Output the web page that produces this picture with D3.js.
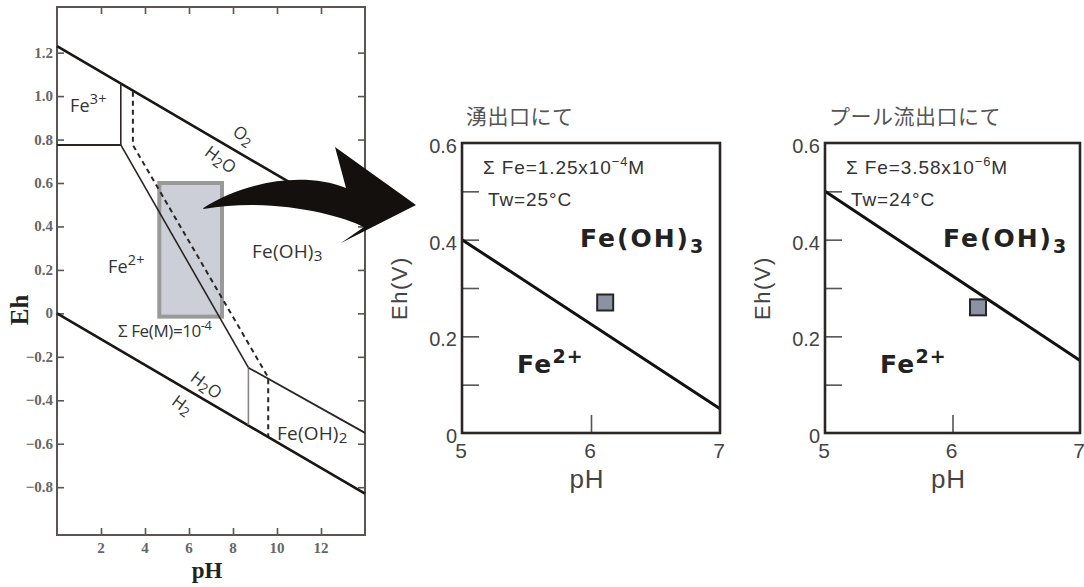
<!DOCTYPE html>
<html><head><meta charset="utf-8">
<script src="https://cdn.jsdelivr.net/npm/d3@7"></script>
<style>
html,body{margin:0;padding:0;background:#fff;}
svg{display:block;}
</style></head><body>
<svg id="chart" width="1084" height="587"></svg>
<script>
// ---- Overview Eh–pH diagram of the Fe–H2O system ----
const overviewPHTicks = [2, 4, 6, 8, 10, 12];
const overviewEhTicks = [1.2, 1.0, 0.8, 0.6, 0.4, 0.2, 0, -0.2, -0.4, -0.6, -0.8];
const o2H2oLine = [[0, 1.23], [14, 0.40]];
const h2oH2Line = [[0, 0], [14, -0.83]];
const fe3Fe2Line = [[0, 0.775], [2.9, 0.775]];
const fe3FeOH3Line = [[2.9, 0.775], [2.9, 1.06]];
const fe2FeOH3Line = [[2.9, 0.775], [8.7, -0.25]];
const fe2FeOH2Line = [[8.7, -0.25], [8.7, -0.513]];
const feOH2FeOH3Line = [[8.7, -0.25], [14, -0.55]];
const dashedBoundary = [[3.45, 1.02], [3.45, 0.775], [9.6, -0.295], [9.6, -0.566]];
const windowPH = [4.65, 7.5];
const windowEh = [-0.015, 0.6];

// ---- Detail panels (pH 5–7, Eh 0–0.6 V) ----
const detailPHTicks = [5, 6, 7];
const detailEhLabels = [0, 0.2, 0.4, 0.6];
const detailEhMinor = [0.1, 0.2, 0.3, 0.4, 0.5];

const springTitle = "湧出口にて";
const springFe = ["1.25x10", "−4"];
const springTemp = "Tw=25°C";
const springBoundary = [[5, 0.40], [7, 0.05]];
const springPoint = [6.11, 0.27];

const poolTitle = "プール流出口にて";
const poolFe = ["3.58x10", "−6"];
const poolTemp = "Tw=24°C";
const poolBoundary = [[5, 0.50], [7, 0.15]];
const poolPoint = [6.2, 0.26];

const svg = d3.select("#chart");
const SANS = "'Liberation Sans', Arial, sans-serif";
const SERIF = "'Liberation Serif', 'Times New Roman', serif";
const JP = "'Noto Sans CJK JP', sans-serif";

// text with super/subscript parts: [{t, sup}|{t, sub}|{t}]
function rich(g, x, y, parts, size, opts = {}) {
  const t = g.append("text").attr("x", x).attr("y", y)
    .attr("font-size", size).attr("font-family", opts.family || SANS)
    .attr("fill", opts.fill || "#222");
  if (opts.weight) t.attr("font-weight", opts.weight);
  if (opts.spacing) t.attr("letter-spacing", opts.spacing);
  if (opts.anchor) t.attr("text-anchor", opts.anchor);
  if (opts.transform) t.attr("transform", opts.transform);
  let shift = 0;
  const small = opts.small || 0.72;
  parts.forEach(p => {
    let target = 0, fs = size;
    if (p.sup) { target = -size * (opts.supShift || 0.42); fs = size * small; }
    if (p.sub) { target = size * (opts.subShift || 0.22); fs = size * small; }
    t.append("tspan").attr("dy", target - shift).attr("font-size", fs).text(p.t);
    shift = target;
  });
  return t;
}

// ================= overview panel =================
const xL = d3.scaleLinear().domain([0, 14]).range([57, 365]);
const yL = d3.scaleLinear().domain([-1.02, 1.41]).range([535, 7]);
const lineL = d3.line().x(d => xL(d[0])).y(d => yL(d[1]));
const gL = svg.append("g");

// highlighted pH/Eh window
gL.append("rect")
  .attr("x", xL(windowPH[0])).attr("y", yL(windowEh[1]))
  .attr("width", xL(windowPH[1]) - xL(windowPH[0]))
  .attr("height", yL(windowEh[0]) - yL(windowEh[1]))
  .attr("fill", "#ccced8").attr("stroke", "#999").attr("stroke-width", 4);

// frame
gL.append("rect").attr("x", 57).attr("y", 7).attr("width", 308).attr("height", 528)
  .attr("fill", "none").attr("stroke", "#5a5552").attr("stroke-width", 2);

// inward ticks on all four sides
const tk = 7;
gL.append("g").attr("transform", "translate(0,535)")
  .call(d3.axisBottom(xL).tickValues(overviewPHTicks).tickSizeInner(-tk).tickSizeOuter(0).tickFormat(""))
  .call(g => g.select(".domain").remove());
gL.append("g").attr("transform", "translate(0,7)")
  .call(d3.axisTop(xL).tickValues(overviewPHTicks).tickSizeInner(-tk).tickSizeOuter(0).tickFormat(""))
  .call(g => g.select(".domain").remove());
gL.append("g").attr("transform", "translate(57,0)")
  .call(d3.axisLeft(yL).tickValues(overviewEhTicks).tickSizeInner(-tk).tickSizeOuter(0).tickFormat(""))
  .call(g => g.select(".domain").remove());
gL.append("g").attr("transform", "translate(365,0)")
  .call(d3.axisRight(yL).tickValues(overviewEhTicks).tickSizeInner(-tk).tickSizeOuter(0).tickFormat(""))
  .call(g => g.select(".domain").remove());
gL.selectAll(".tick line").attr("stroke", "#5a5552").attr("stroke-width", 1.6);

// tick labels
gL.selectAll(".ylab").data(overviewEhTicks).join("text")
  .attr("x", 53).attr("y", d => yL(d) + 5)
  .attr("text-anchor", "end").attr("font-family", SERIF).attr("font-size", 15)
  .attr("font-weight", "bold").attr("fill", "#666")
  .text(d => d === 0 ? "0" : d3.format(".1f")(d));
gL.selectAll(".xlab").data(overviewPHTicks).join("text")
  .attr("x", d => xL(d)).attr("y", 553)
  .attr("text-anchor", "middle").attr("font-family", SERIF).attr("font-size", 15)
  .attr("font-weight", "bold").attr("fill", "#666").text(d => d);

gL.append("text").attr("transform", "translate(28,310) rotate(-90)")
  .attr("text-anchor", "middle").attr("font-family", SERIF).attr("font-weight", "bold")
  .attr("font-size", 25).attr("fill", "#222").text("Eh");
gL.append("text").attr("x", 207).attr("y", 578)
  .attr("text-anchor", "middle").attr("font-family", SERIF).attr("font-weight", "bold")
  .attr("font-size", 23).attr("fill", "#222").text("pH");

// stability-field boundaries
const solid = (d, w, c) => gL.append("path").attr("d", lineL(d)).attr("fill", "none")
  .attr("stroke", c).attr("stroke-width", w);
solid(o2H2oLine, 2.6, "#1a1613");
solid(h2oH2Line, 2.6, "#1a1613");
solid(fe3Fe2Line, 1.8, "#2a2522");
solid(fe3FeOH3Line, 1.6, "#2a2522");
solid(fe2FeOH3Line, 1.6, "#2a2522");
solid(fe2FeOH2Line, 1.6, "#8a8685");
solid(feOH2FeOH3Line, 1.8, "#2a2522");
gL.append("path").attr("d", lineL(dashedBoundary)).attr("fill", "none")
  .attr("stroke", "#2a2522").attr("stroke-width", 2).attr("stroke-dasharray", "5,4");

// field labels
const LF = "'Open Sans', 'Noto Sans', sans-serif";
const lab = {family: LF, fill: "#333", small: 0.8, spacing: 0.2};
rich(gL, 70, 112, [{t: "Fe"}, {t: "3+", sup: true}], 18, lab);
rich(gL, 108, 273, [{t: "Fe"}, {t: "2+", sup: true}], 18, lab);
rich(gL, 252, 258, [{t: "Fe(OH)"}, {t: "3", sub: true}], 19, {...lab, subShift: 0.15});
rich(gL, 277, 440, [{t: "Fe(OH)"}, {t: "2", sub: true}], 19, {...lab, subShift: 0.15});
rich(gL, 118, 337, [{t: "Σ Fe(M)=10"}, {t: "-4", sup: true}], 17, {family: LF, fill: "#333", spacing: -0.4, small: 0.75});

// labels running along the water stability lines
const ang = Math.atan2(yL(o2H2oLine[1][1]) - yL(o2H2oLine[0][1]), xL(14) - xL(0)) * 180 / Math.PI + 6;
function along(pt, dx, dy, parts) {
  rich(gL, 0, 0, parts, 17, {family: LF, fill: "#333", anchor: "middle", small: 0.8, subShift: 0.18,
    transform: `translate(${xL(pt[0]) + dx},${yL(pt[1]) + dy}) rotate(${ang})`});
}
along([8.0, 1.23 - 0.0593 * 8.0], 7, -9, [{t: "O"}, {t: "2", sub: true}]);
along([7.55, 1.23 - 0.0593 * 7.55], -6, 21, [{t: "H"}, {t: "2", sub: true}, {t: "O"}]);
along([6.4, -0.0593 * 6.4], 5, -6, [{t: "H"}, {t: "2", sub: true}, {t: "O"}]);
along([5.85, -0.0593 * 5.85], -7, 21, [{t: "H"}, {t: "2", sub: true}]);

// ================= detail panels =================
function detailPanel(x0, x1, title, fe, temp, boundary, point) {
  const x = d3.scaleLinear().domain([5, 7]).range([x0, x1]);
  const y = d3.scaleLinear().domain([0, 0.6]).range([433, 143]);
  const g = svg.append("g");

  g.append("text").attr("x", x0 + 4).attr("y", 124).attr("font-family", JP)
    .attr("font-size", 21).attr("fill", "#555").attr("letter-spacing", 0.5).text(title);

  // inward ticks
  g.append("g").attr("transform", `translate(${x0},0)`)
    .call(d3.axisLeft(y).tickValues(detailEhMinor).tickSizeInner(-17).tickSizeOuter(0).tickFormat(""))
    .call(a => a.select(".domain").remove());
  g.append("g").attr("transform", "translate(0,433)")
    .call(d3.axisBottom(x).tickValues([6]).tickSizeInner(-18).tickSizeOuter(0).tickFormat(""))
    .call(a => a.select(".domain").remove());
  g.selectAll(".tick line").attr("stroke", "#555").attr("stroke-width", 1.6);

  // boundary Fe2+ / Fe(OH)3
  g.append("path").attr("d", d3.line().x(d => x(d[0])).y(d => y(d[1]))(boundary))
    .attr("fill", "none").attr("stroke", "#111").attr("stroke-width", 3);

  // frame
  g.append("rect").attr("x", x0).attr("y", 143).attr("width", x1 - x0).attr("height", 290)
    .attr("fill", "none").attr("stroke", "#2b2725").attr("stroke-width", 2.6);

  // observed water
  g.append("rect").attr("x", x(point[0]) - 8).attr("y", y(point[1]) - 8)
    .attr("width", 16).attr("height", 16)
    .attr("fill", "#8c91a3").attr("stroke", "#262626").attr("stroke-width", 2);

  // axis labels
  g.selectAll(".yl").data(detailEhLabels).join("text")
    .attr("x", x0 - 5).attr("y", d => y(d) + 10).attr("text-anchor", "end")
    .attr("font-family", SANS).attr("font-size", 20).attr("fill", "#444")
    .text(d => d === 0 ? "0" : d3.format(".1f")(d));
  g.selectAll(".xl").data(detailPHTicks).join("text")
    .attr("x", d => x(d) - 1).attr("y", 458).attr("text-anchor", "middle")
    .attr("font-family", SANS).attr("font-size", 21).attr("fill", "#444").text(d => d);
  g.append("text").attr("x", (x0 + x1) / 2 - 4).attr("y", 488).attr("text-anchor", "middle")
    .attr("font-family", SANS).attr("font-size", 26).attr("fill", "#444").attr("letter-spacing", 1).text("pH");
  g.append("text").attr("transform", `translate(${x0 - 55},${288}) rotate(-90)`)
    .attr("text-anchor", "middle").attr("font-family", SANS).attr("font-size", 22)
    .attr("letter-spacing", 1.5).attr("fill", "#444").text("Eh(V)");

  // conditions
  rich(g, x0 + 21, 174, [{t: "Σ Fe=" + fe[0]}, {t: fe[1], sup: true}, {t: "M"}], 19,
    {family: SANS, fill: "#333", spacing: 0.9, small: 0.68});
  g.append("text").attr("x", x0 + 26).attr("y", 206).attr("font-family", SANS)
    .attr("font-size", 19).attr("letter-spacing", 0.9).attr("fill", "#333").text(temp);

  // field names
  rich(g, x0 + 118, 247, [{t: "Fe(OH)"}, {t: "3", sub: true}], 25,
    {family: "'DejaVu Sans', sans-serif", weight: "bold", fill: "#222", spacing: 2, small: 0.76});
  rich(g, x0 + 55, 373, [{t: "Fe"}, {t: "2+", sup: true}], 25,
    {family: "'DejaVu Sans', sans-serif", weight: "bold", fill: "#222", spacing: 1.2, small: 0.76});
}
detailPanel(462, 720, springTitle, springFe, springTemp, springBoundary, springPoint);
detailPanel(825, 1080, poolTitle, poolFe, poolTemp, poolBoundary, poolPoint);

// ================= connector arrow =================
// from inside the highlighted window toward the first detail panel
const tail = [xL(6.65), yL(0.485)];
const tip = [416, 205];
const p = d3.path();
p.moveTo(tail[0], tail[1]);
p.bezierCurveTo(tail[0] + 37, tail[1] - 24, tail[0] + 97, tail[1] - 38, tip[0] - 70, tip[1] - 17);
p.lineTo(tip[0] - 81, tip[1] - 58);
p.lineTo(tip[0], tip[1]);
p.lineTo(tip[0] - 75, tip[1] + 38);
p.lineTo(tip[0] - 52, tip[1] + 22);
p.bezierCurveTo(tip[0] - 78, tip[1] + 9, tail[0] + 67, tail[1] - 11, tail[0], tail[1] + 1);
p.closePath();
svg.append("path").attr("d", p.toString()).attr("fill", "#14100e");
</script>
</body></html>
